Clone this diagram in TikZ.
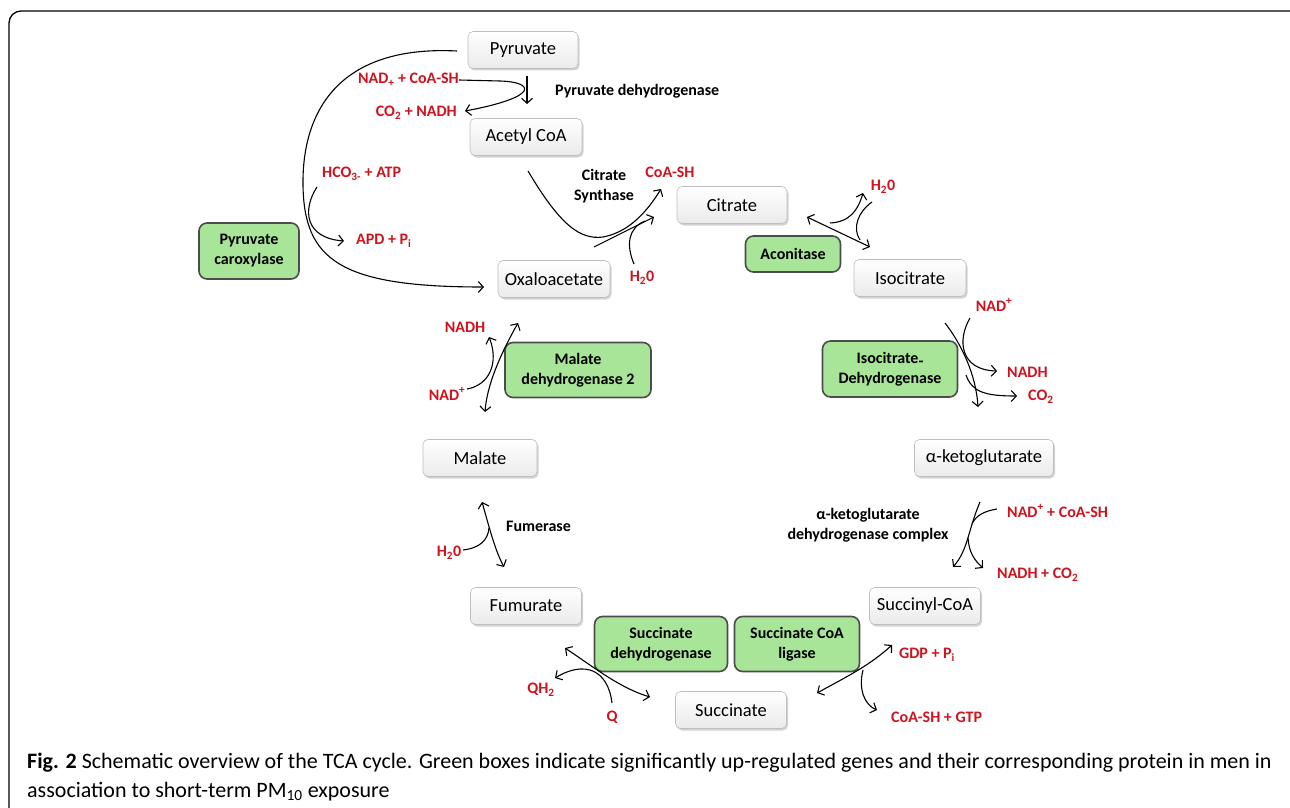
\documentclass[tikz,border=0pt]{standalone}
\usepackage{fontspec}
\setmainfont{Carlito}
\usetikzlibrary{arrows.meta,shadows}
\definecolor{grn}{RGB}{168,229,153}
\definecolor{rd}{RGB}{205,20,30}
\definecolor{bx}{RGB}{190,190,190}
\tikzset{
  wbox/.style={draw=bx, line width=0.6pt, rounded corners=5pt, top color=white, bottom color=gray!16,
    minimum width=112pt, minimum height=37pt, inner sep=0pt, font=\fontsize{18.5}{20}\selectfont,
    drop shadow={shadow xshift=1.5pt, shadow yshift=-2pt, opacity=0.35, fill=gray}},
  gbox/.style={draw=gray!60!black, line width=1.6pt, rounded corners=8pt, fill=grn,
    inner sep=0pt, align=center, font=\fontsize{16}{20}\selectfont\bfseries},
  rlab/.style={text=rd, inner sep=0pt, font=\fontsize{16}{18}\selectfont\bfseries},
  blab/.style={text=black, inner sep=0pt, align=center, font=\fontsize{16}{20}\selectfont\bfseries},
  conn/.style={line width=1.1pt, -{Straight Barb[length=5pt,width=11pt]}},
  conn2/.style={line width=1.1pt, {Straight Barb[length=5pt,width=11pt]}-{Straight Barb[length=5pt,width=11pt]}},
  plain/.style={line width=1.1pt}
}
\begin{document}
\begin{tikzpicture}[x=1pt,y=-1pt]
\useasboundingbox (0,0) rectangle (1290,808);
% frame
\draw[line width=1.3pt, rounded corners=12pt] (9,822) -- (9,11) -- (1302,11) -- (1302,822);

% white boxes
\node[wbox, minimum width=110pt] (pyr) at (523,50) {Pyruvate};
\node[wbox] (acoa) at (526,137) {Acetyl CoA};
\node[wbox, minimum width=110pt] (cit) at (732,205) {Citrate};
\node[wbox] (isocit) at (910,278) {Isocitrate};
\node[wbox] (oxa) at (554,279) {Oxaloacetate};
\node[wbox, minimum width=114pt] (mal) at (480,458) {Malate};
\node[wbox, minimum width=139pt] (akg) at (984,458) {α-ketoglutarate};
\node[wbox, minimum width=111pt] (fum) at (526,606) {Fumurate};
\node[wbox, minimum width=111pt] (sucoa) at (925,606) {Succinyl-CoA};
\node[wbox, minimum width=111pt] (suc) at (731,710) {Succinate};

% green boxes
\node[gbox, minimum width=100pt, minimum height=56pt] (pc) at (249,251) {Pyruvate\\caroxylase};
\node[gbox, minimum width=95pt, minimum height=36pt] (acon) at (793,254) {Aconitase};
\node[gbox, minimum width=146pt, minimum height=55pt] (mdh) at (578,370) {Malate\\dehydrogenase 2};
\node[gbox, minimum width=135pt, minimum height=56pt] (idh) at (890,369) {Isocitrate{\raisebox{-3pt}{-}}\\Dehydrogenase};
\node[gbox, minimum width=133pt, minimum height=55pt] (sdh) at (661,644) {Succinate\\dehydrogenase};
\node[gbox, minimum width=125pt, minimum height=55pt] (scl) at (797,644) {Succinate CoA\\ligase};

% labels
\node[rlab, anchor=east] (l1) at (459,80) {NAD\textsubscript{+} + CoA-SH};
\node[rlab, anchor=east] (l2) at (457,113) {CO\textsubscript{2} + NADH};
\node[blab, anchor=west] (l3) at (555,91) {Pyruvate dehydrogenase};
\node[blab] (l4) at (604,186) {Citrate\\Synthase};
\node[rlab] (l5) at (670,172) {CoA-SH};
\node[rlab, anchor=west] (l6) at (322,174) {HCO\textsubscript{3-} + ATP};
\node[rlab, anchor=west] (l7) at (356,241) {APD + P\textsubscript{i}};
\node[rlab] (l8) at (642,278) {H\textsubscript{2}0};
\node[rlab] (l9) at (883,187) {H\textsubscript{2}0};
\node[rlab] (l10) at (994,305) {NAD\textsuperscript{+}};
\node[rlab, anchor=west] (l11) at (1007,372) {NADH};
\node[rlab, anchor=west] (l12) at (1028,397) {CO\textsubscript{2}};
\node[blab] (l13) at (868,525) {α-ketoglutarate\\dehydrogenase complex};
\node[rlab, anchor=west] (l14) at (1007,511) {NAD\textsuperscript{+} + CoA-SH};
\node[rlab, anchor=west] (l15) at (997,575) {NADH + CO\textsubscript{2}};
\node[rlab] (l16) at (465,327) {NADH};
\node[rlab] (l17) at (447,394) {NAD\textsuperscript{+}};
\node[blab, anchor=west] (l18) at (506,526) {Fumerase};
\node[rlab] (l19) at (449,553) {H\textsubscript{2}0};
\node[rlab] (l20) at (541,690) {QH\textsubscript{2}};
\node[rlab] (l21) at (612,717) {Q};
\node[rlab, anchor=west] (l22) at (899,655) {GDP + P\textsubscript{i}};
\node[rlab, anchor=west] (l23) at (891,717) {CoA-SH + GTP};

% caption
\node[anchor=base west, inner sep=0pt, font=\fontsize{22}{24}\selectfont] (cap1) at (27,768)
  {\textbf{Fig. 2} Schematic overview of the TCA cycle. Green boxes indicate significantly up-regulated genes and their corresponding protein in men in};
\node[anchor=base west, inner sep=0pt, font=\fontsize{22}{24}\selectfont] (cap2) at (27,797)
  {association to short-term PM\textsubscript{10} exposure};

% connectors
\draw[conn] (457,51) .. controls (340,45) and (302,110) .. (303,185) .. controls (304,260) and (340,287) .. (484,287);
\draw[conn] (317,187) .. controls (302,210) and (305,238) .. (344,241);
\draw[conn] (527,76) -- (527,104);
\draw[conn] (459,80) -- (500,81) .. controls (535,82) and (540,97) .. (465,111);
\draw[conn] (528,171) .. controls (560,225) and (580,240) .. (603,237) .. controls (630,232) and (648,210) .. (661,189);
\draw[conn] (594,247) .. controls (620,234) .. (654,217);
\draw[plain] (634,264) .. controls (626,245) and (628,228) .. (645,221);
\draw[conn2] (807,217) -- (870,247);
\draw[conn] (830,223) .. controls (850,222) and (858,210) .. (863,193);
\draw[plain] (872,202) .. controls (858,212) and (852,228) .. (860,240);
\draw[conn] (945,323) .. controls (962,345) and (976,375) .. (978,407);
\draw[conn] (970,318) .. controls (957,340) and (960,370) .. (997,371);
\draw[conn] (966,375) .. controls (972,392) and (985,396) .. (1017,396);
\draw[conn] (980,502) .. controls (968,530) and (968,550) .. (953,567);
\draw[plain] (997,509) .. controls (985,511) and (976,515) .. (972,524);
\draw[conn] (968,538) .. controls (969,552) and (974,560) .. (983,568);
\draw[conn2] (485,412) .. controls (487,385) and (500,355) .. (518,323);
\draw[conn] (467,389) .. controls (490,385) and (499,362) .. (489,337);
\draw[conn2] (482,502) .. controls (490,530) and (495,550) .. (504,567);
\draw[plain] (463,550) .. controls (480,548) and (488,540) .. (489,528);
\draw[conn2] (565,648) .. controls (595,668) and (620,688) .. (650,697);
\draw[conn] (612,703) .. controls (608,670) and (585,660) .. (555,678);
\draw[conn2] (817,693) .. controls (850,675) and (870,665) .. (892,645);
\draw[conn] (863,670) .. controls (858,690) and (865,705) .. (877,710);
\end{tikzpicture}
\end{document}
